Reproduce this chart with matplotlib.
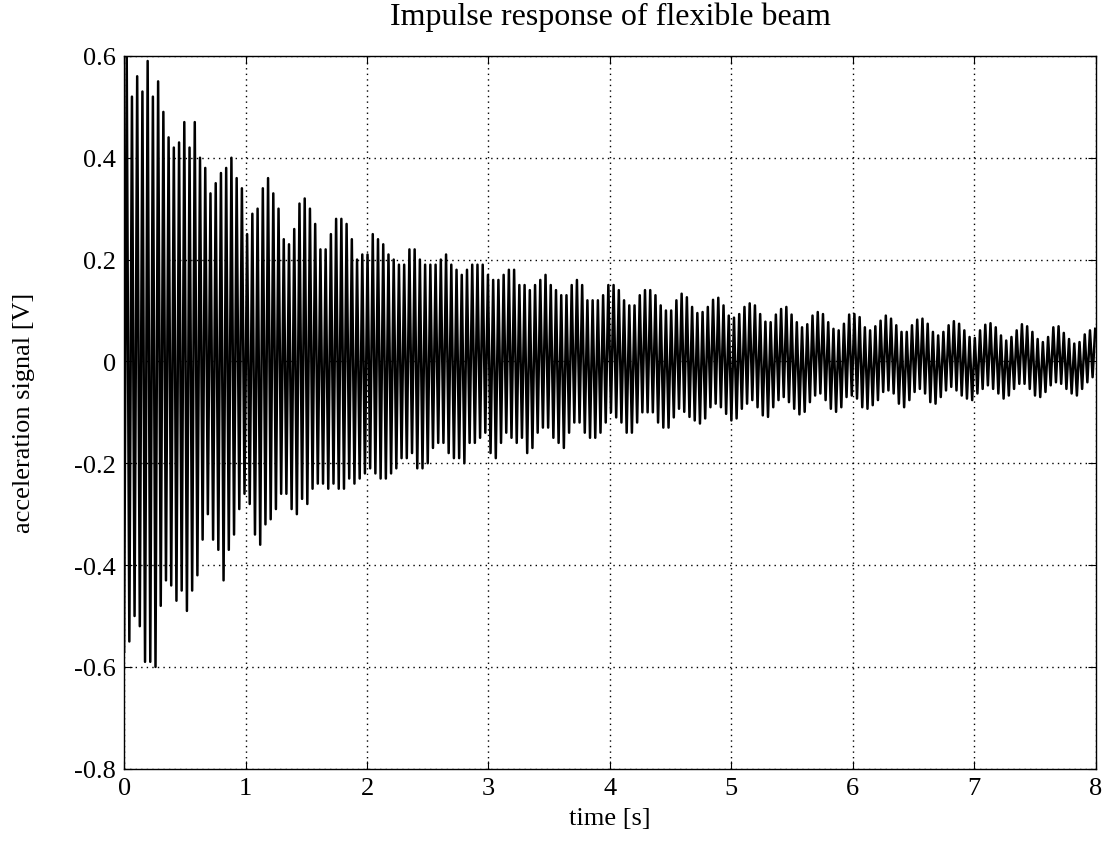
import numpy as np
import matplotlib
matplotlib.use("Agg")
import matplotlib.pyplot as plt

# peak values of the beam acceleration, one per cycle
# (negative peak first, then the positive peak half a period later)
cycle_period = 0.0431   # s, spacing of the peaks
first_peak_t = 0.0      # s, first negative peak

upper_0 = [0.60, 0.52, 0.56, 0.53, 0.59, 0.52, 0.55, 0.49, 0.44, 0.42, 0.43, 0.47,
           0.42, 0.47, 0.40, 0.38, 0.33, 0.35, 0.37, 0.38, 0.40, 0.36, 0.34]
upper_1 = [0.25, 0.29, 0.30, 0.34, 0.36, 0.33, 0.30, 0.24, 0.23, 0.26, 0.31, 0.32,
           0.30, 0.27, 0.22, 0.22, 0.25, 0.28, 0.28, 0.27, 0.24, 0.20, 0.21, 0.21]
upper_2 = [0.25, 0.24, 0.23, 0.21, 0.20, 0.19, 0.19, 0.22, 0.22, 0.20, 0.19, 0.19,
           0.19, 0.20, 0.21, 0.19, 0.18, 0.17, 0.18, 0.19, 0.19, 0.19, 0.17]
upper_3 = [0.16, 0.16, 0.17, 0.18, 0.18, 0.15, 0.15, 0.14, 0.15, 0.16, 0.17, 0.15,
           0.14, 0.13, 0.13, 0.15, 0.16, 0.15, 0.12, 0.12, 0.12, 0.13, 0.15, 0.15,
           0.14, 0.12, 0.11, 0.11, 0.13, 0.14, 0.14, 0.13, 0.11, 0.10, 0.10, 0.12]
upper_4 = [0.133, 0.126, 0.107, 0.095, 0.097, 0.107, 0.121, 0.125, 0.110, 0.090, 0.086, 0.093,
           0.107, 0.114, 0.110, 0.093, 0.078, 0.077, 0.092, 0.103, 0.107, 0.092, 0.077, 0.067,
           0.073, 0.090, 0.097, 0.093, 0.077, 0.064, 0.061, 0.074, 0.092, 0.093, 0.087, 0.067]
upper_6 = [0.061, 0.069, 0.080, 0.090, 0.084, 0.071, 0.058, 0.058, 0.071, 0.082, 0.084,
           0.074, 0.058, 0.051, 0.058, 0.071, 0.079, 0.074, 0.061, 0.048, 0.046, 0.061,
           0.072, 0.075, 0.067, 0.051, 0.041, 0.048, 0.061, 0.073, 0.069, 0.058, 0.044,
           0.038, 0.048, 0.067, 0.069, 0.056, 0.044, 0.035, 0.038, 0.053, 0.061, 0.064]

lower_0 = [-0.57, -0.55, -0.50, -0.52, -0.59, -0.59, -0.60, -0.48, -0.43, -0.44, -0.47, -0.45,
           -0.49, -0.45, -0.42, -0.35, -0.30, -0.35, -0.37, -0.43, -0.37, -0.34, -0.29]
lower_1 = [-0.26, -0.28, -0.34, -0.36, -0.32, -0.31, -0.29, -0.26, -0.26, -0.29, -0.30, -0.27,
           -0.28, -0.25, -0.24, -0.24, -0.25, -0.24, -0.25, -0.25, -0.23, -0.24, -0.23, -0.22]
lower_2 = [-0.21, -0.22, -0.23, -0.23, -0.22, -0.21, -0.19, -0.19, -0.18, -0.21, -0.21, -0.20,
           -0.17, -0.16, -0.16, -0.18, -0.19, -0.19, -0.20, -0.16, -0.16, -0.15, -0.14]
lower_3 = [-0.18, -0.19, -0.16, -0.14, -0.15, -0.16, -0.15, -0.18, -0.17, -0.14, -0.13, -0.13,
           -0.15, -0.16, -0.17, -0.14, -0.12, -0.12, -0.14, -0.15, -0.15, -0.14, -0.12, -0.10,
           -0.11, -0.12, -0.14, -0.14, -0.12, -0.10, -0.10, -0.10, -0.12, -0.13, -0.13, -0.11]
lower_4 = [-0.093, -0.099, -0.109, -0.116, -0.122, -0.112, -0.090, -0.083, -0.090, -0.103,
           -0.116, -0.112, -0.093, -0.083, -0.076, -0.090, -0.106, -0.109, -0.090, -0.076,
           -0.070, -0.080, -0.093, -0.104, -0.099, -0.080, -0.067, -0.063, -0.076, -0.093,
           -0.099, -0.090, -0.070, -0.067, -0.073, -0.090]
lower_6 = [-0.093, -0.086, -0.076, -0.060, -0.057, -0.063, -0.083, -0.090, -0.076, -0.060,
           -0.054, -0.063, -0.080, -0.083, -0.070, -0.057, -0.050, -0.057, -0.067, -0.073,
           -0.076, -0.063, -0.054, -0.047, -0.054, -0.063, -0.073, -0.067, -0.054, -0.044,
           -0.044, -0.054, -0.067, -0.070, -0.060, -0.047, -0.041, -0.044, -0.054, -0.063,
           -0.067, -0.054, -0.041, -0.031]

x_ticks = [0, 1, 2, 3, 4, 5, 6, 7, 8]
y_ticks = [-0.8, -0.6, -0.4, -0.2, 0, 0.2, 0.4, 0.6]
y_tick_labels = ["-0.8", "-0.6", "-0.4", "-0.2", "0", "0.2", "0.4", "0.6"]


def main():
    upper = np.concatenate([upper_0, upper_1, upper_2, upper_3, upper_4, upper_6])
    lower = np.concatenate([lower_0, lower_1, lower_2, lower_3, lower_4, lower_6])
    n = min(len(upper), len(lower))

    t_low = first_peak_t + np.arange(n) * cycle_period
    t_up = t_low + cycle_period / 2

    # interleave negative / positive peaks -> the trace
    t = np.empty(2 * n)
    y = np.empty(2 * n)
    t[0::2], t[1::2] = t_low, t_up
    y[0::2], y[1::2] = lower[:n], upper[:n]

    plt.rcParams['font.family'] = ['Liberation Serif', 'DejaVu Serif']
    plt.rcParams['font.size'] = 19

    fig = plt.figure(figsize=(11.08, 8.62), dpi=100)
    ax = fig.add_axes([0.112, 0.107, 0.877, 0.827])

    ax.plot(t, y, color='black', lw=1.8)

    ax.set_xlim(0, 8)
    ax.set_ylim(-0.8, 0.6)
    ax.set_xticks(x_ticks)
    ax.set_yticks(y_ticks)
    ax.set_yticklabels(y_tick_labels)
    ax.grid(True, color='black', linestyle=(0, (1, 3)), linewidth=1.0)
    ax.tick_params(direction='in', top=True, right=True, length=6, pad=6)
    for s in ax.spines.values():
        s.set_linewidth(1.0)

    ax.set_title("Impulse response of flexible beam", fontsize=23, pad=23)
    ax.set_xlabel("time [s]", labelpad=6)
    ax.set_ylabel("acceleration signal [V]", labelpad=28)

    fig.savefig("out.png", dpi=100)


if __name__ == "__main__":
    main()
